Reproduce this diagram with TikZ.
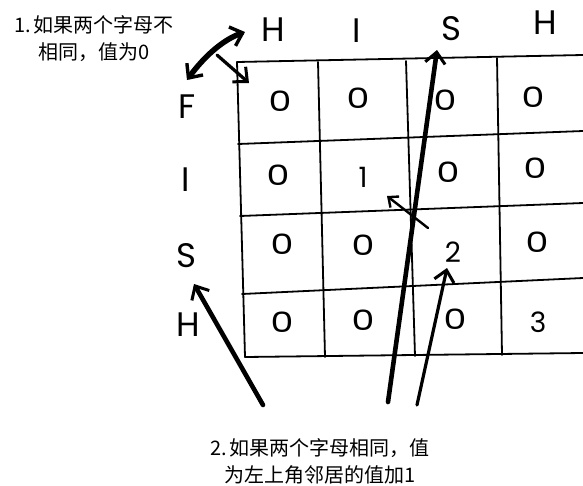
\documentclass[tikz,border=0pt]{standalone}
\usepackage{fontspec}
\usepackage{graphicx}
\setmainfont{Poppins}
\newfontfamily\cjk{Noto Sans CJK SC}
\usetikzlibrary{arrows.meta}
\newcommand{\zz}{\scalebox{1.3}[1]{0}}
\begin{document}
\begin{tikzpicture}[x=1pt,y=-1pt,
  gridline/.style={line width=1.8pt, line cap=round, line join=round},
  lbl/.style={font=\fontsize{34}{34}\selectfont, inner sep=0pt},
  val/.style={font=\fontsize{28}{28}\selectfont, inner sep=0pt},
  note/.style={font=\cjk\fontsize{20}{27}\selectfont, align=center, inner sep=0pt},
  barb/.style={-{Straight Barb[length=11pt,width=20pt,line width=3pt]}},
  bigarrow/.style={barb, line width=4.6pt, line cap=round},
  midarrow/.style={barb, line width=3.2pt, line cap=round},
  smallarrow/.style={-{Straight Barb[length=8pt,width=14pt,line width=2.4pt]}, line width=2.4pt, line cap=round}]
\useasboundingbox (0,0) rectangle (583,485);
\fill[white] (0,0) rectangle (583,485);

% grid coordinates
\coordinate (r0a) at (237,62);  \coordinate (r0b) at (583,55);
\coordinate (r1a) at (238,144); \coordinate (r1b) at (583,131);
\coordinate (r2a) at (240,216); \coordinate (r2b) at (583,203);
\coordinate (r3a) at (242,294); \coordinate (r3b) at (583,278);
\coordinate (r4a) at (245,357); \coordinate (r4b) at (583,353);
\coordinate (v1a) at (318,62);  \coordinate (v1b) at (325,357);
\coordinate (v2a) at (406,61);  \coordinate (v2b) at (415,356);
\coordinate (v3a) at (497,58);  \coordinate (v3b) at (502,355);

\draw[gridline] (r0a) -- (r0b);
\draw[gridline] (r1a) -- (r1b);
\draw[gridline] (r2a) -- (r2b);
\draw[gridline] (r3a) -- (r3b);
\draw[gridline] (r4a) -- (r4b);
\draw[gridline] (r0a) -- (r4a);
\draw[gridline] (v1a) -- (v1b);
\draw[gridline] (v2a) -- (v2b);
\draw[gridline] (v3a) -- (v3b);

% headers
\node[lbl] (hH1) at (273,30) {H};
\node[lbl] (hI)  at (357,31) {I};
\node[lbl] (hS)  at (451,29) {S};
\node[lbl] (hH2) at (545,23) {H};
% row labels
\node[lbl] (rF) at (187,107) {F};
\node[lbl] (rI) at (186,180) {I};
\node[lbl] (rS) at (186,256) {S};
\node[lbl] (rH) at (188,325) {H};

% cell values
\node[val] (c11) at (280,101) {\zz};
\node[val] (c12) at (358,98)  {\zz};
\node[val] (c13) at (445,100) {\zz};
\node[val] (c14) at (533,97)  {\zz};
\node[val] (c21) at (278,175) {\zz};
\node[val] (c22) at (363,177) {1};
\node[val] (c23) at (448,172) {\zz};
\node[val] (c24) at (535,168) {\zz};
\node[val] (c31) at (282,244) {\zz};
\node[val] (c32) at (363,245) {\zz};
\node[val] (c33) at (453,252) {2};
\node[val] (c34) at (537,242) {\zz};
\node[val] (c41) at (282,322) {\zz};
\node[val] (c42) at (363,320) {\zz};
\node[val] (c43) at (455,319) {\zz};
\node[val] (c44) at (538,322) {3};

% notes
\node[note] (n1) at (94,39) {1.\,如果两个字母不\\相同，值为0};
\node[note] (n2) at (320,461) {2.\,如果两个字母相同，值\\为左上角邻居的值加1};

% arrows
\coordinate (a1s) at (187,80);
\coordinate (a1e) at (245,32);
\coordinate (a2s) at (217,55);
\coordinate (a2e) at (249,83);
\coordinate (a3s) at (388,402);
\coordinate (a3e) at (437,50);
\coordinate (a4s) at (417,405);
\coordinate (a4e) at (447,268);
\coordinate (a5s) at (263,405);
\coordinate (a5e) at (194,284);
\coordinate (a6s) at (428,228);
\coordinate (a6e) at (387,196);

\draw[{Straight Barb[length=11pt,width=20pt,line width=3.4pt]}-{Straight Barb[length=11pt,width=20pt,line width=3.4pt]}, line width=5.5pt, line cap=round]
  (a1s) .. controls (203,58) and (222,40) .. (a1e);
\draw[midarrow] (a2s) -- (a2e);
\draw[bigarrow] (a3s) -- (a3e);
\draw[midarrow] (a4s) -- (a4e);
\draw[bigarrow] (a5s) -- (a5e);
\draw[smallarrow] (a6s) -- (a6e);
\end{tikzpicture}
\end{document}
